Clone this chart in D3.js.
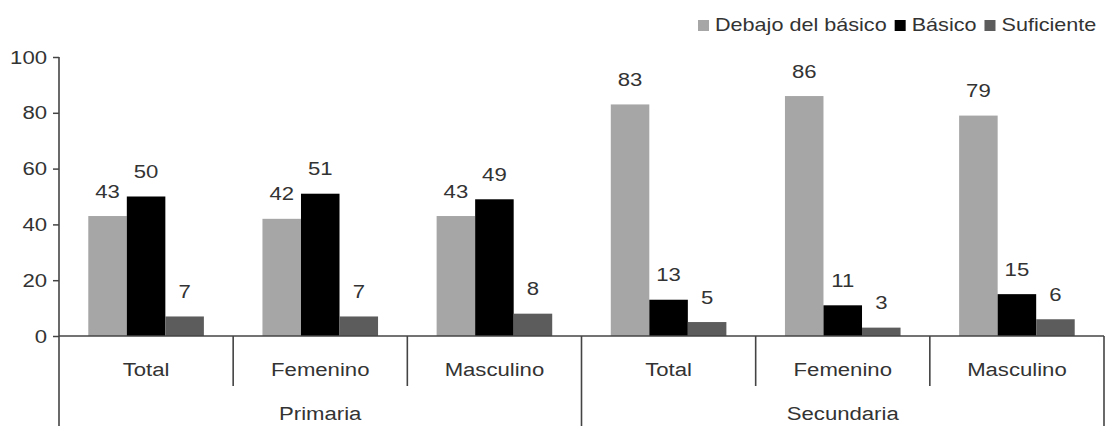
<!DOCTYPE html>
<html>
<head>
<meta charset="utf-8">
<script src="https://cdn.jsdelivr.net/npm/d3@7"></script>
<style>
  html, body { margin: 0; padding: 0; background: #fff; }
  svg { display: block; }
  text { font-family: "Liberation Sans", Arial, sans-serif; fill: #333; }
</style>
</head>
<body>
<svg id="chart" width="1115" height="426"></svg>
<script>
// ---- data ----
const categories = ["Total", "Femenino", "Masculino", "Total", "Femenino", "Masculino"];
const levels = ["Primaria", "Primaria", "Primaria", "Secundaria", "Secundaria", "Secundaria"];
const seriesNames = ["Debajo del básico", "Básico", "Suficiente"];
const debajo = [43, 42, 43, 83, 86, 79];
const basico = [50, 51, 49, 13, 11, 15];
const suficiente = [7, 7, 8, 5, 3, 6];
const yTicks = [0, 20, 40, 60, 80, 100];

const seriesValues = [debajo, basico, suficiente];
const colors = ["#a6a6a6", "#000000", "#5c5c5c"];

const FS = 18, SX = 1.23;
const svg = d3.select("#chart");
const W = 1115, H = 426;
const mLeft = 59, mRight = 1104, mTop = 57, mBottom = 336;

const x = d3.scaleBand().domain(categories.map((d, i) => i)).range([mLeft, mRight]).padding(0);
const xs = d3.scaleBand().domain(seriesNames).range([0, x.bandwidth()]).paddingInner(0).paddingOuter(0.76);
const y = d3.scaleLinear().domain([0, 100]).range([mBottom, mTop]);

function stext(g, tx, ty, str, anchor, sx) {
  return g.append("text")
    .attr("transform", `translate(${tx},${ty}) scale(${sx || SX},1)`)
    .attr("text-anchor", anchor || "middle")
    .style("font-size", FS + "px")
    .text(str);
}

// bars
const rows = categories.map((c, i) => ({ i, vals: seriesNames.map((s, k) => ({ s, k, v: seriesValues[k][i] })) }));
const gBars = svg.append("g");
const grp = gBars.selectAll("g.cat").data(rows).join("g")
  .attr("class", "cat")
  .attr("transform", d => `translate(${x(d.i)},0)`);
grp.selectAll("rect").data(d => d.vals).join("rect")
  .attr("x", d => xs(d.s))
  .attr("width", xs.bandwidth())
  .attr("y", d => y(d.v))
  .attr("height", d => y(0) - y(d.v))
  .attr("fill", d => colors[d.k]);
grp.each(function(d) {
  const g = d3.select(this);
  d.vals.forEach(v => {
    stext(g, xs(v.s) + xs.bandwidth() / 2, y(v.v) - 18.5, String(v.v));
  });
});

// y axis
const yAxis = d3.axisLeft(y).tickValues(yTicks).tickSize(6).tickSizeOuter(0).tickFormat(d3.format("d"));
const gy = svg.append("g").attr("transform", `translate(${mLeft},0)`).call(yAxis);
gy.select(".domain").remove();
gy.selectAll(".tick line").attr("stroke", "#444").attr("stroke-width", 1.5);
gy.selectAll(".tick text")
  .attr("x", null).attr("dy", null)
  .attr("transform", `translate(-12,6) scale(${SX},1)`)
  .attr("text-anchor", "end")
  .style("font-size", FS + "px")
  .style("font-family", '"Liberation Sans", Arial, sans-serif')
  .attr("fill", "#333");

// axis lines
const lineC = "#444";
svg.append("line").attr("x1", mLeft).attr("x2", mLeft).attr("y1", y(100)).attr("y2", H)
  .attr("stroke", lineC).attr("stroke-width", 1.6);
svg.append("line").attr("x1", mLeft).attr("x2", mRight).attr("y1", y(0)).attr("y2", y(0))
  .attr("stroke", lineC).attr("stroke-width", 1.6);

// category separators
const gx = svg.append("g");
categories.forEach((c, i) => {
  const xe = x(i) + x.bandwidth();
  const isGroupEnd = (i === categories.length - 1) || levels[i] !== levels[i + 1];
  gx.append("line").attr("x1", xe).attr("x2", xe)
    .attr("y1", y(0)).attr("y2", isGroupEnd ? H : y(0) + 50)
    .attr("stroke", lineC).attr("stroke-width", 1.6);
  stext(gx, x(i) + x.bandwidth() / 2, 376, c);
});

// level labels
const uniqueLevels = Array.from(new Set(levels));
uniqueLevels.forEach(l => {
  const idx = levels.map((d, i) => d === l ? i : -1).filter(i => i >= 0);
  const x0 = x(idx[0]), x1 = x(idx[idx.length - 1]) + x.bandwidth();
  stext(gx, (x0 + x1) / 2, 420, l);
});

// legend
const gl = svg.append("g");
let lx = 698;
const sq = 11, ly = 31, LSX = 1.2;
seriesNames.forEach((s, k) => {
  gl.append("rect").attr("x", lx).attr("y", ly - 11).attr("width", sq).attr("height", sq).attr("fill", colors[k]);
  const t = stext(gl, lx + sq + 6, ly, s, "start", LSX);
  const w = t.node().getComputedTextLength() * LSX;
  lx = lx + sq + 6 + w + 8;
});
</script>
</body>
</html>
